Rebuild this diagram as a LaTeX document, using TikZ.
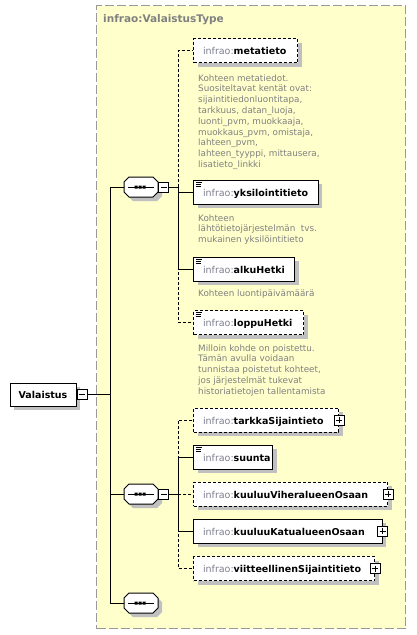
\documentclass[tikz,border=0pt]{standalone}
\usepackage{fontspec}
\setmainfont{DejaVu Sans}
\usetikzlibrary{shadows}
\definecolor{bgyellow}{HTML}{FFFFCC}
\definecolor{framegray}{HTML}{999999}
\definecolor{titlegray}{HTML}{808080}
\definecolor{descgray}{HTML}{808080}
\definecolor{prefixc}{HTML}{7F7F8F}
\definecolor{shadowc}{HTML}{C0C0C0}
\newcommand\elname[1]{\textcolor{prefixc}{infrao:}\textbf{#1}}
\newcommand\seqglyph[1]{%
  \begin{scope}[shift={(#1.center)}]
    \fill[shadowc] (-13,-1)--(-8,-6)--(16,-6)--(21,-1)--(21,9)--(16,14)--(-8,14)--(-13,9)--cycle;
    \draw[line width=1pt,fill=white] (-17,-5)--(-12,-10)--(12,-10)--(17,-5)--(17,5)--(12,10)--(-12,10)--(-17,5)--cycle;
    \draw[line width=1pt] (-13,0)--(13,0);
    \fill (-6.5,-1.5) rectangle (-3.5,1.5) (-2.5,-1.5) rectangle (0.5,1.5) (1.5,-1.5) rectangle (4.5,1.5);
  \end{scope}}
\tikzset{
  lblfont/.style={font=\fontsize{9.5}{12}\selectfont},
  shad/.style={drop shadow={shadow xshift=4pt,shadow yshift=-4pt,fill=shadowc,opacity=1}},
  reqbox/.style={draw,line width=1pt,fill=white,anchor=west,minimum height=24pt,
    inner xsep=9.5pt,inner ysep=0pt,text height=8pt,text depth=0pt,lblfont,align=left,shad},
  optbox/.style={reqbox,dash pattern=on 3pt off 2pt},
  ikon/.style={path picture={
    \draw[solid,line width=0.8pt]
      ([shift={(2pt,-2pt)}]path picture bounding box.north west) -- ++(6.5,0)
      ([shift={(2pt,-4pt)}]path picture bounding box.north west) -- ++(5.5,0)
      ([shift={(2pt,-6pt)}]path picture bounding box.north west) -- ++(5.5,0);}},
  pmbox/.style={draw,solid,line width=0.8pt,fill=white,minimum size=10pt,inner sep=0pt},
  plusbox/.style={pmbox,path picture={
    \draw[line width=0.8pt] ([xshift=2pt]path picture bounding box.west) -- ([xshift=-2pt]path picture bounding box.east)
      ([yshift=-2pt]path picture bounding box.north) -- ([yshift=2pt]path picture bounding box.south);}},
  minusbox/.style={pmbox,path picture={
    \draw[line width=0.8pt] ([xshift=2pt]path picture bounding box.west) -- ([xshift=-2pt]path picture bounding box.east);}},
  seqnode/.style={minimum width=34pt,minimum height=20pt,inner sep=0pt},
  conn/.style={line width=1pt},
  optconn/.style={conn,dash pattern=on 3pt off 2pt},
  desc/.style={anchor=north west,inner sep=0pt,align=left,text=descgray,font=\fontsize{8.8}{10.8}\selectfont},
}
\begin{document}
\begin{tikzpicture}[x=1pt,y=-1pt]
\useasboundingbox (0,0) rectangle (416,635);
\fill[white] (0,0) rectangle (416,635);
% type container
\node[draw=framegray,line width=1.2pt,dash pattern=on 9pt off 3pt,fill=bgyellow,
      minimum width=309pt,minimum height=623pt,anchor=north west,inner sep=0pt] (typebox) at (96,5) {};
\node[anchor=base west,inner sep=0pt,text=titlegray,font=\fontsize{10.5}{12}\selectfont\bfseries] (title) at (103,22.5) {infrao:ValaistusType};
% root element
\node[draw,line width=1pt,fill=white,minimum width=66pt,minimum height=23pt,inner sep=0pt,
      text height=8pt,text depth=0pt,lblfont,shad] (valaistus) at (43,394.5) {\textbf{Valaistus}};
\node[minusbox,anchor=west] (valM) at (valaistus.east) {};
% sequences
\node[seqnode] (seq1) at (141,187) {};
\seqglyph{seq1}
\node[minusbox,anchor=west] (seq1M) at (seq1.east) {};
\node[seqnode] (seq2) at (141,494) {};
\seqglyph{seq2}
\node[minusbox,anchor=west] (seq2M) at (seq2.east) {};
\node[seqnode] (seq3) at (141,603) {};
\seqglyph{seq3}
% children of first sequence
\node[optbox,text width=85pt] (meta) at (193,50.5) {\elname{metatieto}};
\node[desc] (metadesc) at (198,74.3) {Kohteen metatiedot.\\Suositeltavat kentät ovat:\\sijaintitiedonluontitapa,\\tarkkuus, datan\_luoja,\\luonti\_pvm, muokkaaja,\\muokkaus\_pvm, omistaja,\\lahteen\_pvm,\\lahteen\_tyyppi, mittausera,\\lisatieto\_linkki};
\node[reqbox,ikon,text width=105.5pt] (yks) at (193,192) {\elname{yksilointitieto}};
\node[desc] (yksdesc) at (198,214.3) {Kohteen\\lähtötietojärjestelmän\ \ tvs.\\mukainen yksilöintitieto};
\node[reqbox,ikon,text width=82pt] (alku) at (193,269) {\elname{alkuHetki}};
\node[desc] (alkudesc) at (198,289.8) {Kohteen luontipäivämäärä};
\node[optbox,ikon,text width=91pt] (loppu) at (193,322.5) {\elname{loppuHetki}};
\node[desc] (loppudesc) at (198,344.3) {Milloin kohde on poistettu.\\Tämän avulla voidaan\\tunnistaa poistetut kohteet,\\jos järjestelmät tukevat\\historiatietojen tallentamista};
% children of second sequence
\node[optbox,text width=126pt] (tarkka) at (193,420) {\elname{tarkkaSijaintieto}};
\node[plusbox] (tarkkaP) at (tarkka.east) {};
\node[reqbox,ikon,text width=60pt] (suunta) at (193,457) {\elname{suunta}};
\node[optbox,text width=175pt] (vihera) at (193,494) {\elname{kuuluuViheralueenOsaan}};
\node[plusbox] (viheraP) at (vihera.east) {};
\node[reqbox,text width=169.5pt] (katu) at (193,531) {\elname{kuuluuKatualueenOsaan}};
\node[plusbox] (katuP) at (katu.east) {};
\node[optbox,text width=162pt] (viite) at (193,568.5) {\elname{viitteellinenSijaintitieto}};
\node[plusbox] (viiteP) at (viite.east) {};
% connectors
\coordinate (j0) at (110,394.5);
\coordinate (b1) at (178,187);
\coordinate (b2) at (178,494);
\draw[conn] (valM.east) -- (j0);
\draw[conn] (j0 |- seq1.west) -- (j0 |- seq3.west);
\draw[conn] (j0 |- seq1.west) -- (seq1.west);
\draw[conn] (j0 |- seq2.west) -- (seq2.west);
\draw[conn] (j0 |- seq3.west) -- (seq3.west);
\draw[conn] (seq1M.east) -- (b1);
\draw[optconn] (b1) |- (meta.west);
\draw[optconn] (b1) |- (loppu.west);
\draw[conn] (b1) |- (yks.west);
\draw[conn] (b1) |- (alku.west);
\draw[conn] (seq2M.east) -- (b2);
\draw[optconn] (b2) |- (tarkka.west);
\draw[optconn] (b2) |- (viite.west);
\draw[optconn] (b2) -- (vihera.west);
\draw[conn] (b2) |- (suunta.west);
\draw[conn] (b2) |- (katu.west);
\end{tikzpicture}
\end{document}
